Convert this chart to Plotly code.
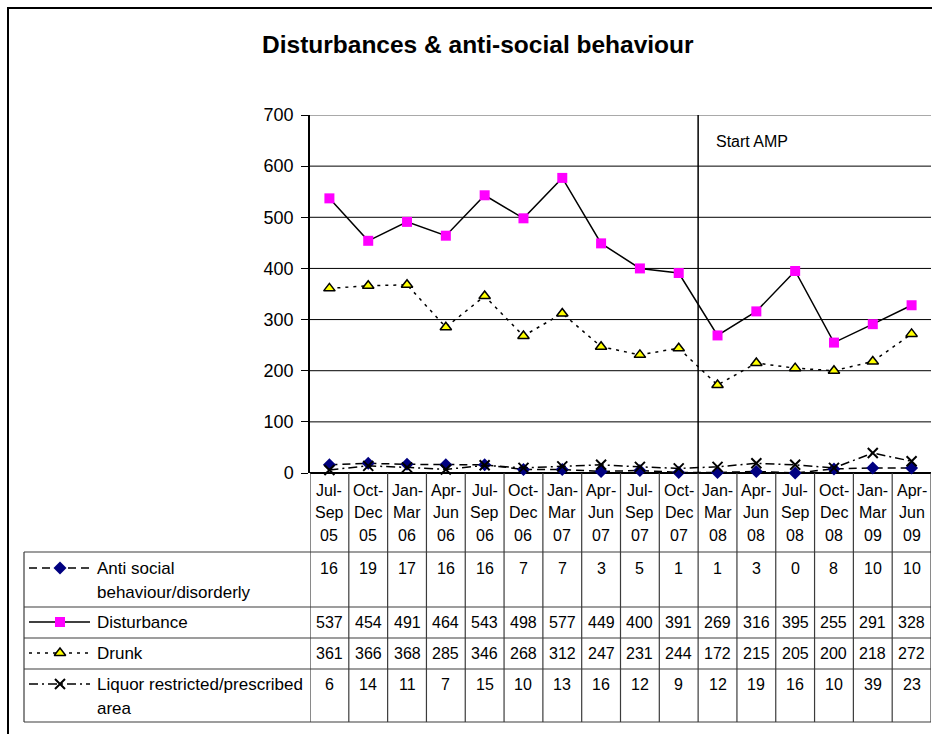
import plotly.graph_objects as go

W, H = 932, 734

categories = ["Jul-Sep 05", "Oct-Dec 05", "Jan-Mar 06", "Apr-Jun 06", "Jul-Sep 06", "Oct-Dec 06",
              "Jan-Mar 07", "Apr-Jun 07", "Jul-Sep 07", "Oct-Dec 07", "Jan-Mar 08", "Apr-Jun 08",
              "Jul-Sep 08", "Oct-Dec 08", "Jan-Mar 09", "Apr-Jun 09"]
anti_social = [16, 19, 17, 16, 16, 7, 7, 3, 5, 1, 1, 3, 0, 8, 10, 10]
disturbance = [537, 454, 491, 464, 543, 498, 577, 449, 400, 391, 269, 316, 395, 255, 291, 328]
drunk = [361, 366, 368, 285, 346, 268, 312, 247, 231, 244, 172, 215, 205, 200, 218, 272]
liquor = [6, 14, 11, 7, 15, 10, 13, 16, 12, 9, 12, 19, 16, 10, 39, 23]
y_ticks = [0, 100, 200, 300, 400, 500, 600, 700]
series_names = [["Anti social", "behaviour/disorderly"], ["Disturbance"], ["Drunk"],
                ["Liquor restricted/prescribed", "area"]]
amp_start_index = 10  # "Start AMP" between Oct-Dec 07 and Jan-Mar 08

FONT = "Arial, Liberation Sans, sans-serif"
PL, PR, PT, PB = 310, 931, 115, 473  # plot area in pixels


def py(p):
    return 1 - p / H


def px(p):
    return p / W


idx = list(range(len(categories)))
fig = go.Figure()

styles = [
    dict(data=anti_social, dash="8px,5px", marker=dict(symbol="diamond", size=10, color="#000080",
                                                        line=dict(width=0))),
    dict(data=disturbance, dash="solid", marker=dict(symbol="square", size=10, color="#FF00FF",
                                                      line=dict(width=0))),
    dict(data=drunk, dash="3px,5px", marker=dict(symbol="triangle-up", size=10, color="#FFFF00",
                                                  line=dict(width=1.5, color="black"))),
    dict(data=liquor, dash="9px,4px,2px,4px", marker=dict(symbol="x-thin-open", size=10, color="black",
                                                          line=dict(width=2, color="black"))),
]

for s in styles:
    fig.add_trace(go.Scatter(x=idx, y=s["data"], mode="lines+markers",
                             line=dict(color="black", width=1.5, dash=s["dash"]),
                             marker=s["marker"], cliponaxis=False, showlegend=False,
                             xaxis="x", yaxis="y"))

# legend keys inside the table (overlay pixel axes)
row_y = [568, 622, 653, 684]
for s, ry in zip(styles, row_y):
    fig.add_trace(go.Scatter(x=[29, 90], y=[ry, ry], mode="lines",
                             line=dict(color="black", width=1.5, dash=s["dash"]),
                             showlegend=False, xaxis="x2", yaxis="y2"))
    fig.add_trace(go.Scatter(x=[60], y=[ry], mode="markers", marker=s["marker"],
                             showlegend=False, xaxis="x2", yaxis="y2"))

shapes = []
annotations = []

# outer frame
shapes.append(dict(type="line", xref="paper", yref="paper", x0=px(7), x1=1, y0=py(8), y1=py(8),
                   line=dict(color="black", width=2)))
shapes.append(dict(type="line", xref="paper", yref="paper", x0=px(8), x1=px(8), y0=py(7), y1=0,
                   line=dict(color="black", width=2)))

# gridlines
for t in y_ticks[1:-1]:
    shapes.append(dict(type="line", xref="paper", yref="y", x0=px(PL), x1=px(PR), y0=t, y1=t,
                       line=dict(color="black", width=1), layer="below"))
shapes.append(dict(type="line", xref="paper", yref="y", x0=px(PL), x1=px(PR), y0=700, y1=700,
                   line=dict(color="#8c8c8c", width=1.5), layer="below"))

# Start AMP line
shapes.append(dict(type="line", xref="x", yref="y", x0=amp_start_index - 0.5, x1=amp_start_index - 0.5,
                   y0=0, y1=700, line=dict(color="black", width=1.5), layer="below"))
annotations.append(dict(xref="paper", yref="paper", x=px(714), y=py(142), text="Start AMP",
                        showarrow=False, xanchor="left", yanchor="middle",
                        font=dict(family=FONT, size=16, color="black")))

# table
TT, TB = 552, 722
rows = [552, 607, 638, 669, 722]
TC = "#3c3c3c"
for r in rows:
    shapes.append(dict(type="line", xref="paper", yref="paper", x0=px(24), x1=px(PR), y0=py(r), y1=py(r),
                       line=dict(color=TC, width=1.2)))
shapes.append(dict(type="line", xref="paper", yref="paper", x0=px(24), x1=px(24), y0=py(TT), y1=py(TB),
                   line=dict(color=TC, width=1.2)))
for i in range(len(categories) + 1):
    shapes.append(dict(type="line", xref="x", yref="paper", x0=i - 0.5, x1=i - 0.5, y0=py(PB), y1=py(TB),
                       line=dict(color=TC, width=1.2)))

# category labels
for i, c in enumerate(categories):
    a, rest = c.split("-", 1)
    b, yr = rest.split(" ")
    for txt, yy in zip([a + "-", b, yr], [490, 512, 535]):
        annotations.append(dict(xref="x", yref="paper", x=i, y=py(yy), text=txt, showarrow=False,
                                xanchor="center", yanchor="middle",
                                font=dict(family=FONT, size=16, color="black")))

# table values
for data, ry in zip([anti_social, disturbance, drunk, liquor], row_y):
    for i, v in enumerate(data):
        annotations.append(dict(xref="x", yref="paper", x=i, y=py(ry), text=str(v), showarrow=False,
                                xanchor="center", yanchor="middle",
                                font=dict(family=FONT, size=16, color="black")))

# series names
for names, ry in zip(series_names, row_y):
    for k, n in enumerate(names):
        annotations.append(dict(xref="paper", yref="paper", x=px(95), y=py(ry + 24 * k), text=n,
                                showarrow=False, xanchor="left", yanchor="middle",
                                font=dict(family=FONT, size=17, color="black")))

# title
annotations.append(dict(xref="paper", yref="paper", x=px(478), y=py(44), text="<b>Disturbances & anti-social behaviour</b>",
                        showarrow=False, xanchor="center", yanchor="middle",
                        font=dict(family=FONT, size=24.5, color="black")))

fig.update_layout(
    width=W, height=H, margin=dict(l=0, r=0, t=0, b=0, autoexpand=False),
    paper_bgcolor="white", plot_bgcolor="rgba(0,0,0,0)",
    shapes=shapes, annotations=annotations, showlegend=False,
    xaxis=dict(domain=[px(PL), px(PR)], range=[-0.5, len(categories) - 0.5], showticklabels=False,
               showgrid=False, zeroline=False, showline=False, ticks="", fixedrange=True, automargin=False),
    yaxis=dict(domain=[py(PB), py(PT)], range=[0, 700], tickvals=y_ticks, ticks="outside", ticklen=7,
               tickcolor="black", showline=True, linecolor="black", linewidth=1.5, showgrid=False,
               zeroline=True, zerolinecolor="black", zerolinewidth=1.5, automargin=False,
               tickfont=dict(family=FONT, size=18, color="black"), ticklabelstandoff=4),
    xaxis2=dict(domain=[0, 1], range=[0, W], visible=False, anchor="y2", automargin=False),
    yaxis2=dict(domain=[0, 1], range=[H, 0], visible=False, anchor="x2", automargin=False),
)

fig.write_html("out.html")
